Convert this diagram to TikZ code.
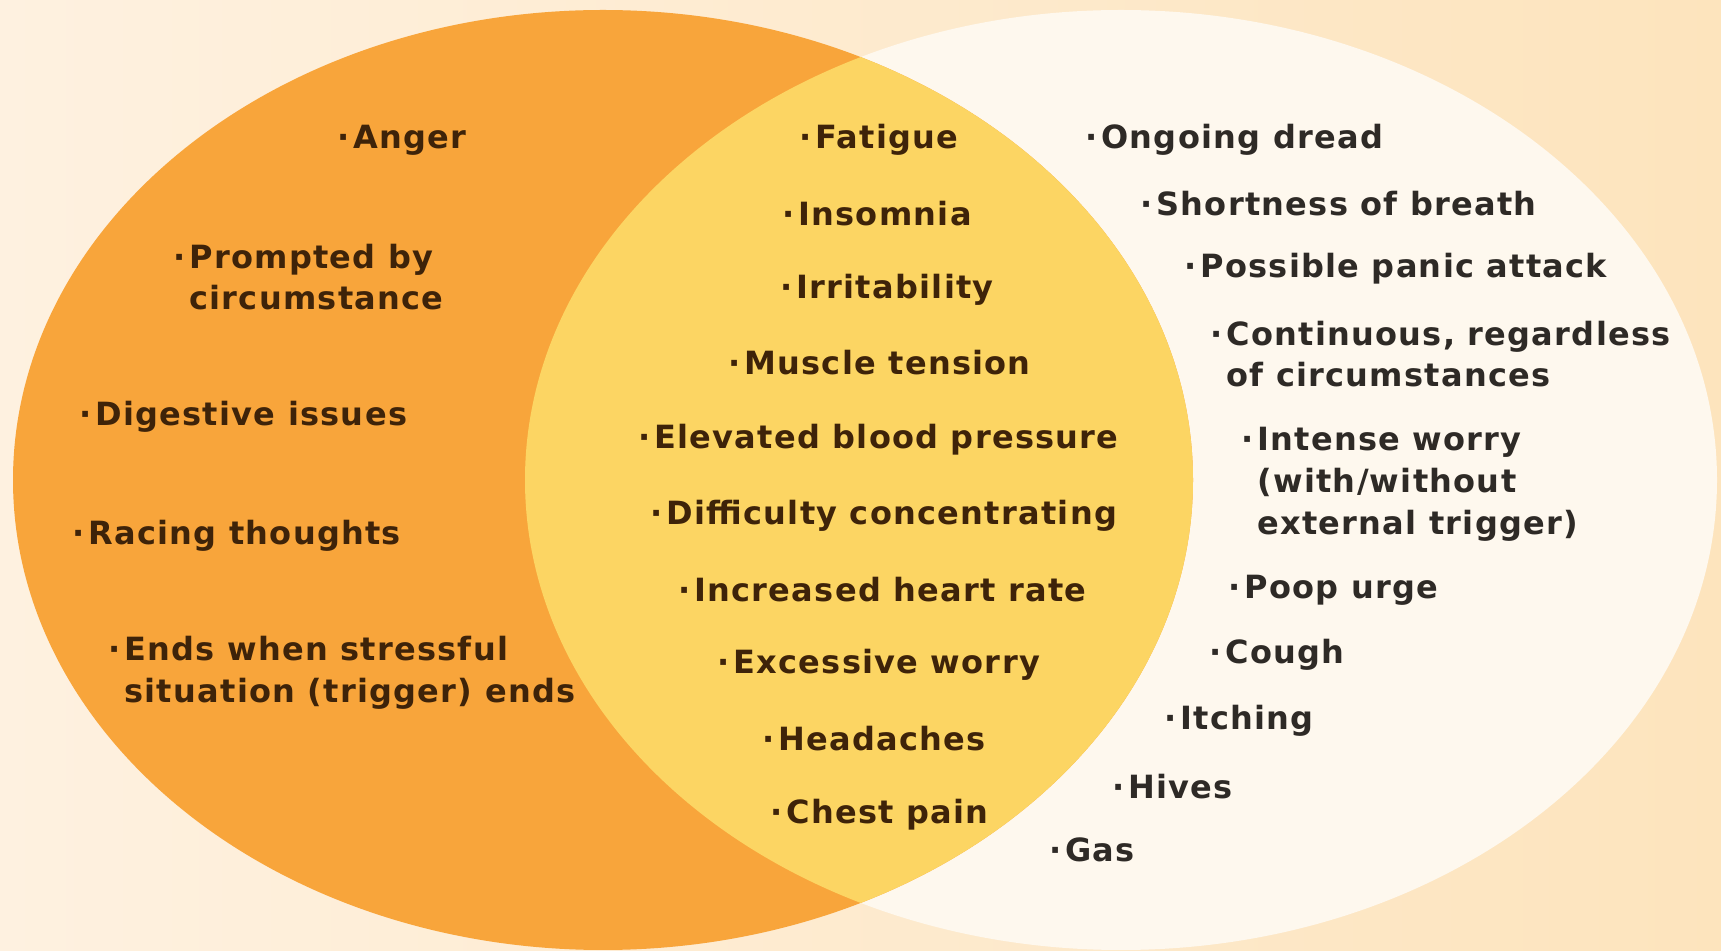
\documentclass[tikz,border=0pt]{standalone}
\usepackage{fontspec}
\setmainfont{DejaVu Sans}[LetterSpace=4]
\usetikzlibrary{positioning,calc}

\definecolor{bgleft}{HTML}{FEF1E0}
\definecolor{bgright}{HTML}{FDE4BD}
\definecolor{stressfill}{HTML}{F8A53B}
\definecolor{anxietyfill}{HTML}{FEF8EE}
\definecolor{bothfill}{HTML}{FCD563}
\definecolor{browntext}{HTML}{3E2309}
\definecolor{greytext}{HTML}{2E2A26}

\newcommand{\bl}{\llap{·\hspace{2pt}}}

\begin{document}
\begin{tikzpicture}[x=0.5pt, y=-0.5pt,
	item/.style={anchor=west, inner sep=0pt, align=left, text=browntext,
		font=\fontsize{16}{20.9}\selectfont\bfseries},
	anxitem/.style={item, text=greytext}]
	
	\useasboundingbox (0,0) rectangle (1721,951);
	\shade[left color=bgleft, right color=bgright] (0,0) rectangle (1721,951);
	
	% Circles
	\coordinate (stress) at (603,480);
	\coordinate (anxiety) at (1121,480);
	\fill[anxietyfill] (anxiety) ellipse [x radius=298pt, y radius=235pt];
	\fill[stressfill] (stress) ellipse [x radius=295pt, y radius=235pt];
	\begin{scope}
		\clip (stress) ellipse [x radius=295pt, y radius=235pt];
		\fill[bothfill] (anxiety) ellipse [x radius=298pt, y radius=235pt];
	\end{scope}
	
	% Stress only
	\node[item] (anger) at (353,140) {\bl Anger};
	\node[item] (prompted) at (189,277) {\bl Prompted by\\circumstance};
	\node[item] (digestive) at (95,417) {\bl Digestive issues};
	\node[item] (racing) at (88,536) {\bl Racing thoughts};
	\node[item] (ends) at (124,673) {\bl Ends when stressful\\situation (trigger) ends};
	
	% Both
	\node[item] (fatigue) at (815,140) {\bl Fatigue};
	\node[item] (insomnia) at (798,214) {\bl Insomnia};
	\node[item] (irritability) at (796,290) {\bl Irritability};
	\node[item] (muscle) at (744,363) {\bl Muscle tension};
	\node[item] (pressure) at (654,440) {\bl Elevated blood pressure};
	\node[item] (concentrating) at (666,516) {\bl Difficulty concentrating};
	\node[item] (heart) at (694,590) {\bl Increased heart rate};
	\node[item] (worry) at (733,665) {\bl Excessive worry};
	\node[item] (headaches) at (778,739) {\bl Headaches};
	\node[item] (chest) at (786,815) {\bl Chest pain};
	
	% Anxiety only
	\node[anxitem] (dread) at (1101,140) {\bl Ongoing dread};
	\node[anxitem] (breath) at (1156,204) {\bl Shortness of breath};
	\node[anxitem] (panic) at (1200,269) {\bl Possible panic attack};
	\node[anxitem] (continuous) at (1226,354) {\bl Continuous, regardless\\of circumstances};
	\node[anxitem] (intense) at (1257,484) {\bl Intense worry\\(with/without\\external trigger)};
	\node[anxitem] (poop) at (1244,590) {\bl Poop urge};
	\node[anxitem] (cough) at (1225,655) {\bl Cough};
	\node[anxitem] (itching) at (1180,721) {\bl Itching};
	\node[anxitem] (hives) at (1128,787) {\bl Hives};
	\node[anxitem] (gas) at (1065,850) {\bl Gas};
\end{tikzpicture}
\end{document}
